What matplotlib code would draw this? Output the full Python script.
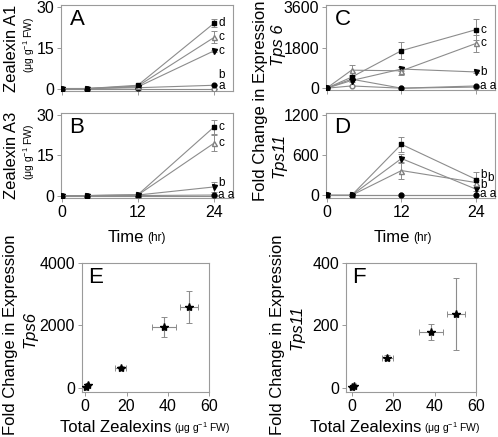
import matplotlib
matplotlib.use("Agg")
import matplotlib.pyplot as plt
import numpy as np

plt.rcParams['font.family'] = ['Liberation Sans', 'DejaVu Sans']
plt.rcParams['mathtext.fontset'] = 'custom'
plt.rcParams['mathtext.rm'] = 'Liberation Sans'
plt.rcParams['mathtext.it'] = 'Liberation Sans:italic'

# ---- data ----
time = [0, 4, 12, 24]
series_names = ["sq", "otri", "itri", "fcirc", "ocirc"]

a1_vals = {"sq": [0, 0, 1.2, 23.9], "otri": [0, 0, 0.9, 18.7], "itri": [0, 0, 0.6, 13.8],
           "fcirc": [0, 0, 0.3, 1.2], "ocirc": [0, 0, 0, 0]}
a1_err = {"sq": [0, 0, 0, 1.5], "otri": [0, 0, 0, 2.2], "itri": [0, 0, 0, 0.5],
          "fcirc": [0, 0, 0, 0], "ocirc": [0, 0, 0, 0]}
a1_letters = [("d", 23.9), ("c", 18.7), ("c", 13.8), ("b", 5.0), ("a", 0.9)]

a3_vals = {"sq": [0, 0, 0.3, 25.4], "otri": [0, 0, 0.2, 19.4], "itri": [0, 0, 0.2, 3.2],
           "fcirc": [0, 0, 0, 0.2], "ocirc": [0, 0, 0, 0]}
a3_err = {"sq": [0, 0, 0, 2.5], "otri": [0, 0, 0, 3.0], "itri": [0, 0, 0, 2.0],
          "fcirc": [0, 0, 0, 0], "ocirc": [0, 0, 0, 0]}
a3_letters = [("c", 25.4), ("c", 19.4), ("b", 4.6), ("a a", 0.3)]

tps6_vals = {"sq": [0, 490, 1665, 2600], "otri": [0, 800, 770, 1990], "itri": [0, 340, 850, 720],
             "fcirc": [0, 400, 0, 100], "ocirc": [0, 100, 0, 50]}
tps6_err = {"sq": [0, 80, 370, 470], "otri": [0, 250, 180, 380], "itri": [0, 60, 100, 40],
            "fcirc": [0, 0, 0, 0], "ocirc": [0, 0, 0, 0]}
tps6_letters = [("c", 2600), ("c", 1990), ("b", 720), ("a a", 100)]

tps11_vals = {"sq": [0, 0, 762, 236], "otri": [0, 0, 370, 190], "itri": [0, 0, 550, 90],
              "fcirc": [0, 0, 0, 0], "ocirc": [0, 0, 0, 0]}
tps11_err = {"sq": [0, 0, 110, 115], "otri": [0, 0, 130, 40], "itri": [0, 0, 60, 20],
             "fcirc": [0, 0, 0, 0], "ocirc": [0, 0, 0, 0]}
tps11_letters = [("b", 310, 3), ("b", 260, 8), ("b", 150, 3), ("a a", 15, 3)]

total_zealexins = [0.2, 1.2, 17.1, 38.0, 50.3]
total_zealexins_err = [0.3, 0.5, 2.7, 5.8, 4.4]
tps6_fold = [30, 90, 650, 1950, 2600]
tps6_fold_err = [20, 30, 50, 320, 505]
tps11_fold = [2, 6, 97, 180, 237]
tps11_fold_err = [1, 2, 8, 25, 115]

# ---- styles ----
GRAY = "#8c8c8c"
LET_FS = 8.5
marker_style = {
    "sq": dict(marker="s", mfc="black", mec="black", ms=3.4),
    "otri": dict(marker="^", mfc="white", mec="#808080", ms=3.6),
    "itri": dict(marker="v", mfc="black", mec="black", ms=3.6),
    "fcirc": dict(marker="o", mfc="black", mec="black", ms=3.4),
    "ocirc": dict(marker="o", mfc="white", mec="#808080", ms=3.4),
}
draw_order = ["ocirc", "fcirc", "itri", "otri", "sq"]

W, H = 498, 437
fig = plt.figure(figsize=(W / 100, H / 100), dpi=100)


def ax_px(left, right, top, bottom):
    return fig.add_axes([left / W, 1 - bottom / H, (right - left) / W, (bottom - top) / H])


def style_axes(ax):
    for s in ax.spines.values():
        s.set_color("#9a9a9a")
        s.set_linewidth(0.8)
    ax.tick_params(direction="out", length=3, width=0.7, color="#9a9a9a",
                   labelsize=11.5, pad=2)


def time_panel(ax, vals, errs, ylim, yticks, letter, show_x):
    for k in draw_order:
        ax.errorbar(time, vals[k], yerr=errs[k], color=GRAY, lw=0.8, ecolor=GRAY,
                    elinewidth=0.7, capsize=2, capthick=0.7, zorder=3,
                    **marker_style[k])
    ax.set_xlim(-0.1, 27.0)
    ax.set_ylim(*ylim)
    ax.set_xticks([0, 12, 24])
    ax.set_yticks(yticks)
    if not show_x:
        ax.set_xticklabels([])
    else:
        ax.tick_params(axis="x", pad=9)
    ax.text(0.05, 0.95, letter, transform=ax.transAxes, fontsize=16, va="top", ha="left")
    style_axes(ax)


def letters(ax, items):
    for it in items:
        t, y = it[0], it[1]
        dx = it[2] if len(it) > 2 else 3
        ax.annotate(t, (24, y), xytext=(dx, 0), textcoords="offset points", va="center",
                    ha="left", fontsize=LET_FS)


# Panel A
axA = ax_px(61, 233, 5, 91)
time_panel(axA, a1_vals, a1_err, (-0.9, 30.6), [0, 15, 30], "A", False)
letters(axA, a1_letters)

# Panel B
axB = ax_px(61, 233, 113, 198)
time_panel(axB, a3_vals, a3_err, (-0.9, 30.6), [0, 15, 30], "B", True)
letters(axB, a3_letters)

# Panel C
axC = ax_px(326, 495, 5, 90)
time_panel(axC, tps6_vals, tps6_err, (-80, 3690), [0, 1800, 3600], "C", False)
letters(axC, tps6_letters)

# Panel D
axD = ax_px(326, 495, 113, 198)
time_panel(axD, tps11_vals, tps11_err, (-40, 1230), [0, 600, 1200], "D", True)
letters(axD, tps11_letters)


def scatter_panel(ax, yv, ye, ylim, yticks, xlim, letter):
    ax.errorbar(total_zealexins, yv, xerr=total_zealexins_err, yerr=ye, fmt="*",
                color="black", ms=6, ecolor=GRAY, elinewidth=0.8, capsize=2,
                capthick=0.7, zorder=3)
    ax.set_xlim(*xlim)
    ax.set_ylim(*ylim)
    ax.set_xticks([0, 20, 40, 60])
    ax.set_yticks(yticks)
    ax.tick_params(axis="x", pad=9)
    ax.text(0.05, 0.97, letter, transform=ax.transAxes, fontsize=16, va="top", ha="left")
    style_axes(ax)


axE = ax_px(82, 209, 263, 392)
scatter_panel(axE, tps6_fold, tps6_fold_err, (-130, 4000), [0, 2000, 4000], (-1.6, 60), "E")
axF = ax_px(346, 476, 263, 392)
scatter_panel(axF, tps11_fold, tps11_fold_err, (-13, 400), [0, 200, 400], (-2.9, 60), "F")


def ftext(x, y, s, **kw):
    fig.text(x / W, 1 - y / H, s, **kw)


# y labels
ftext(11, 48, "Zealexin A1", rotation=90, fontsize=12, ha="center", va="center")
ftext(29, 45, r"(μg g$^{-1}$ FW)", rotation=90, fontsize=7.5, ha="center", va="center")
ftext(11, 155, "Zealexin A3", rotation=90, fontsize=12, ha="center", va="center")
ftext(29, 152, r"(μg g$^{-1}$ FW)", rotation=90, fontsize=7.5, ha="center", va="center")

ftext(261, 101, "Fold Change in Expression", rotation=90, fontsize=12, ha="center", va="center")
ftext(279, 45, "Tps 6", rotation=90, fontsize=12, style="italic", ha="center", va="center")
ftext(279, 155, "Tps11", rotation=90, fontsize=12, style="italic", ha="center", va="center")

ftext(11, 335, "Fold Change in Expression", rotation=90, fontsize=12, ha="center", va="center")
ftext(30, 330, "Tps6", rotation=90, fontsize=12, style="italic", ha="center", va="center")
ftext(277, 335, "Fold Change in Expression", rotation=90, fontsize=12, ha="center", va="center")
ftext(297, 328, "Tps11", rotation=90, fontsize=12, style="italic", ha="center", va="center")

# x labels
ftext(144, 237, "Time", fontsize=12, ha="right", va="center")
ftext(147, 238, "(hr)", fontsize=8.5, ha="left", va="center")
ftext(410, 237, "Time", fontsize=12, ha="right", va="center")
ftext(413, 238, "(hr)", fontsize=8.5, ha="left", va="center")

ftext(171, 427, "Total Zealexins", fontsize=12, ha="right", va="center")
ftext(174, 428, r"(μg g$^{-1}$ FW)", fontsize=7.5, ha="left", va="center")
ftext(421, 427, "Total Zealexins", fontsize=12, ha="right", va="center")
ftext(424, 428, r"(μg g$^{-1}$ FW)", fontsize=7.5, ha="left", va="center")

fig.savefig("out.png", dpi=100)
